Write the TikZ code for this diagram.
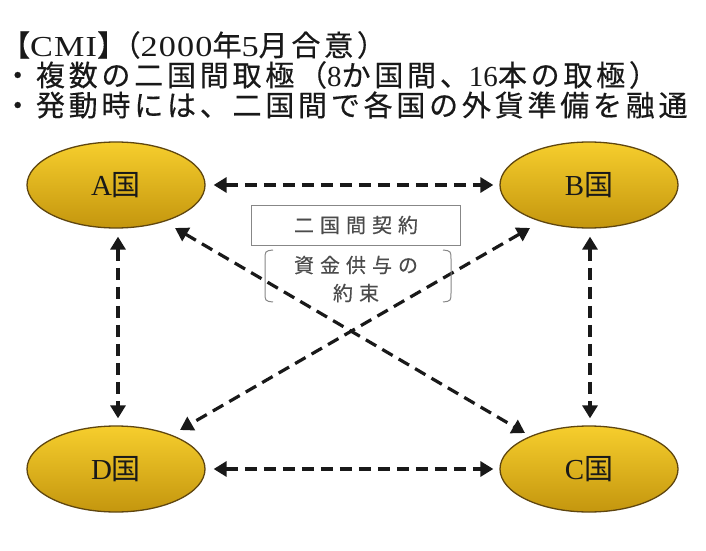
\documentclass[tikz,border=0pt]{standalone}
\usepackage{fontspec}
\setmainfont{Liberation Serif}
\newfontfamily\cjk{Noto Sans CJK JP}
\newfontfamily\latwide[FakeStretch=1.18,LetterSpace=4]{Liberation Serif}
\newfontfamily\cjkhdr[LetterSpace=13,FakeBold=0.4]{Noto Sans CJK JP}
\newfontfamily\cjkwide[LetterSpace=30,FakeBold=0.3]{Noto Sans CJK JP}
\usetikzlibrary{arrows.meta,shapes.geometric,calc}
\definecolor{goldtop}{RGB}{246,206,45}
\definecolor{goldbot}{RGB}{196,150,14}
\definecolor{ellborder}{RGB}{95,70,15}
\definecolor{txtgray}{RGB}{75,75,75}
\definecolor{boxgray}{RGB}{135,135,135}
\begin{document}
\begin{tikzpicture}[x=1pt,y=1pt,
  country/.style={ellipse, draw=ellborder, line width=1.3pt, top color=goldtop, bottom color=goldbot,
    minimum width=178pt, minimum height=86pt, inner sep=0pt, text=black!90,
    font=\fontsize{29}{30}\selectfont},
  arr/.style={{Triangle[length=13pt,width=15pt]}-{Triangle[length=13pt,width=15pt]},
    line width=3.2pt, dash pattern=on 12pt off 7pt, black!90},
  hdr/.style={anchor=west, font=\fontsize{29}{30}\selectfont, inner sep=0pt, text=black!90},
  note/.style={text=txtgray, font=\cjkwide\fontsize{20}{28}\selectfont, align=center, inner sep=0pt},
]
\useasboundingbox (0,0) rectangle (706,550);
\fill[white] (0,0) rectangle (706,550);

% header
\node[hdr] (h1) at (1,505) {{\cjkhdr【}{\latwide CMI}{\cjkhdr】}\hspace{-0.5em}{\cjkhdr（}{\latwide 2000}{\cjkhdr 年}{\latwide 5}{\cjkhdr 月合意）}};
\node[hdr] (h2) at (3,475) {{\cjkhdr ・複数の二国間取極（}8{\cjkhdr か国間、}16{\cjkhdr 本の取極）}};
\node[hdr] (h3) at (3,445) {{\cjkhdr ・発動時には、二国間で各国の外貨準備を融通}};

% countries
\node[country] (A) at (116,365) {A{\cjk 国}};
\node[country] (B) at (589,365) {B{\cjk 国}};
\node[country] (D) at (116,81) {D{\cjk 国}};
\node[country] (C) at (589,81) {C{\cjk 国}};

% connectors
\draw[arr] ([xshift=8]A.east) -- ([xshift=-6]B.west);
\draw[arr] ([xshift=8]D.east) -- ([xshift=-6]C.west);
\draw[arr] ([shift={(2,-8)}]A.south) -- ([shift={(2,7)}]D.north);
\draw[arr] ([shift={(1,-8)}]B.south) -- ([shift={(1,7)}]C.north);
\draw[arr] ([shift={(59,-43)}]A.center) -- ([shift={(-64,36)}]C.center);
\draw[arr] ([shift={(-59,-43)}]B.center) -- ([shift={(64,39)}]D.center);

% contract box
\node[draw=boxgray, line width=1pt, fill=white, minimum width=209pt, minimum height=40pt,
  text=txtgray, font=\cjkwide\fontsize{20}{20}\selectfont, inner sep=0pt] (k) at (356,325) {二国間契約\hspace{-0.3em}};
\node[note] (p) at (356,271) {資金供与の\hspace{-0.3em}\\約束\hspace{-0.3em}};
\draw[boxgray, line width=1pt] (273,300) .. controls (265,299) .. (265,290) -- (265,258) .. controls (265,249) .. (273,248);
\draw[boxgray, line width=1pt] (443,300) .. controls (451,299) .. (451,290) -- (451,258) .. controls (451,249) .. (443,248);
\end{tikzpicture}
\end{document}
